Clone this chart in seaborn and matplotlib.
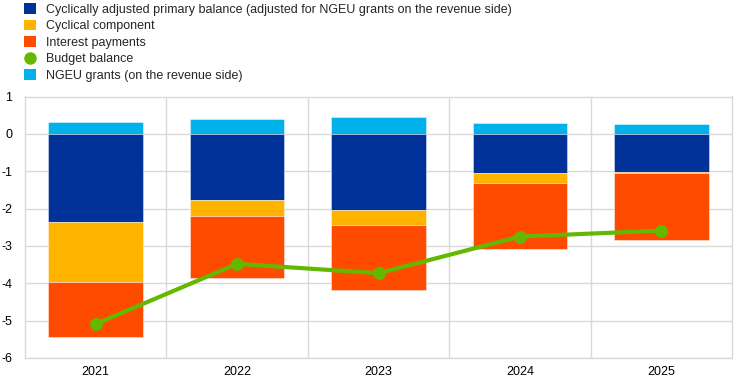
import matplotlib
matplotlib.use("Agg")
import matplotlib.pyplot as plt
import seaborn as sns
import numpy as np
import pandas as pd
from matplotlib.patches import Patch
from matplotlib.lines import Line2D

years = ["2021", "2022", "2023", "2024", "2025"]
capb = [-2.36, -1.78, -2.05, -1.06, -1.01]
cyclical = [-1.61, -0.43, -0.40, -0.26, -0.03]
interest = [-1.46, -1.66, -1.73, -1.75, -1.80]
ngeu = [0.33, 0.40, 0.44, 0.30, 0.26]
budget_balance = [-5.09, -3.48, -3.73, -2.75, -2.59]

labels = [
    "Cyclically adjusted primary balance (adjusted for NGEU grants on the revenue side)",
    "Cyclical component",
    "Interest payments",
    "Budget balance",
    "NGEU grants (on the revenue side)",
]
c_capb = "#003299"
c_cyc = "#FFB400"
c_int = "#FF4B00"
c_bb = "#65B800"
c_ngeu = "#00B1EA"

sns.set_style("white")
plt.rcParams["font.family"] = ["Liberation Sans", "DejaVu Sans"]

fig = plt.figure(figsize=(7.44, 3.86), dpi=100)
ax = fig.add_axes([25 / 744, 1 - 358 / 386, (732 - 25) / 744, (358 - 96.5) / 386])

df = pd.DataFrame({"year": years, "capb": capb, "cyc": cyclical, "int": interest,
                   "ngeu": ngeu, "bb": budget_balance})
b1 = np.array(capb)
b2 = b1 + np.array(cyclical)

kw = dict(width=0.67, edgecolor="#ffffff", linewidth=0.6, ax=ax, zorder=2)
sns.barplot(data=df, x="year", y="ngeu", color=c_ngeu, saturation=1, **kw)
sns.barplot(data=df, x="year", y="capb", color=c_capb, saturation=1, **kw)
sns.barplot(data=df, x="year", y="cyc", color=c_cyc, saturation=1, bottom=b1, **kw)
sns.barplot(data=df, x="year", y="int", color=c_int, saturation=1, bottom=b2, **kw)
for p in ax.patches:
    p.set_edgecolor((1, 1, 1, 0.5))
sns.pointplot(data=df, x="year", y="bb", color=c_bb, markers="o", linestyles="-",
              ax=ax, markersize=7, linewidth=3)
for ln in ax.lines:
    ln.set_zorder(4)

ax.set_ylim(-6, 1)
ax.set_xlim(-0.5, 4.5)
ax.set_yticks(range(-6, 2))
ax.set_yticklabels([str(v) for v in range(-6, 2)])
ax.set_xlabel("")
ax.set_ylabel("")
ax.tick_params(axis="both", length=0, labelsize=9, colors="#000000")
ax.tick_params(axis="y", pad=9)
ax.tick_params(axis="x", pad=6)

ax.set_axisbelow(True)
ax.yaxis.grid(True, color="#d9d9d9", linewidth=1)
for xv in [0.5, 1.5, 2.5, 3.5]:
    ax.axvline(xv, color="#d9d9d9", linewidth=1, zorder=0)
for s in ax.spines.values():
    s.set_color("#d9d9d9")
    s.set_linewidth(1)

handles = [
    Patch(facecolor=c_capb, edgecolor="none"),
    Patch(facecolor=c_cyc, edgecolor="none"),
    Patch(facecolor=c_int, edgecolor="none"),
    Line2D([0], [0], marker="o", color="none", markerfacecolor=c_bb,
           markeredgecolor=c_bb, markersize=8),
    Patch(facecolor=c_ngeu, edgecolor="none"),
]
fig.legend(handles, labels, loc="upper left", bbox_to_anchor=(23 / 744, 1 - 2 / 386),
           frameon=False, fontsize=9, handlelength=0.9, handleheight=0.9,
           handletextpad=0.8, labelspacing=0.32, borderaxespad=0, borderpad=0.1)

fig.savefig("out.png", dpi=100)
